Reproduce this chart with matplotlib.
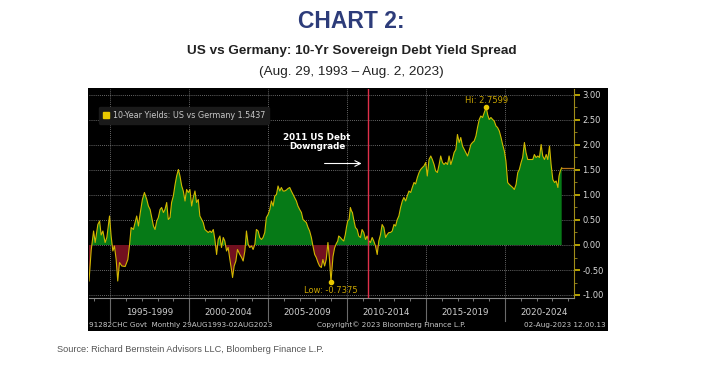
import matplotlib
matplotlib.use("Agg")
import matplotlib.pyplot as plt
import matplotlib.patches as mpatches
from matplotlib import font_manager
import numpy as np

# spread values (decimal year, % points)
dates_dec = [1993.66, 1993.80, 1993.95, 1994.05, 1994.22, 1994.33, 1994.43, 1994.54, 1994.68, 1994.79,
             1994.89, 1994.96, 1995.06, 1995.17, 1995.27, 1995.38, 1995.48, 1995.59, 1995.74, 1995.95,
             1996.12, 1996.22, 1996.33, 1996.47, 1996.58, 1996.68, 1996.79, 1996.89, 1997.04, 1997.17,
             1997.32, 1997.42, 1997.53, 1997.63, 1997.74, 1997.84, 1997.95, 1998.05, 1998.16, 1998.26,
             1998.37, 1998.47, 1998.58, 1998.68, 1998.79, 1998.89, 1999.00, 1999.11, 1999.21, 1999.32,
             1999.42, 1999.53, 1999.63, 1999.74, 1999.84, 1999.95, 2000.05, 2000.16, 2000.26, 2000.37,
             2000.47, 2000.58, 2000.68, 2000.79, 2000.89, 2001.00, 2001.11, 2001.21, 2001.32, 2001.42,
             2001.53, 2001.63, 2001.74, 2001.84, 2001.95, 2002.05, 2002.16, 2002.26, 2002.37, 2002.47,
             2002.58, 2002.68, 2002.75, 2002.85, 2002.96, 2003.06, 2003.21, 2003.32, 2003.42, 2003.53,
             2003.63, 2003.74, 2003.84, 2003.95, 2004.05, 2004.16, 2004.26, 2004.37, 2004.47, 2004.58,
             2004.68, 2004.79, 2004.89, 2005.00, 2005.11, 2005.21, 2005.32, 2005.42, 2005.53, 2005.63,
             2005.74, 2005.84, 2005.95, 2006.05, 2006.16, 2006.26, 2006.37, 2006.47, 2006.58, 2006.68,
             2006.79, 2006.89, 2007.00, 2007.11, 2007.21, 2007.32, 2007.42, 2007.53, 2007.63, 2007.74,
             2007.84, 2007.95, 2008.05, 2008.16, 2008.26, 2008.37, 2008.47, 2008.58, 2008.68, 2008.79,
             2008.89, 2008.98, 2009.11, 2009.21, 2009.32, 2009.41, 2009.47, 2009.58, 2009.68, 2009.79,
             2009.89, 2009.96, 2010.04, 2010.13, 2010.21, 2010.28, 2010.34, 2010.42, 2010.53, 2010.64,
             2010.74, 2010.85, 2010.95, 2011.06, 2011.17, 2011.27, 2011.38, 2011.48, 2011.59, 2011.69,
             2011.80, 2011.91, 2012.01, 2012.12, 2012.22, 2012.33, 2012.44, 2012.54, 2012.65, 2012.75,
             2012.86, 2012.97, 2013.07, 2013.18, 2013.28, 2013.39, 2013.50, 2013.60, 2013.71, 2013.81,
             2013.92, 2014.03, 2014.13, 2014.24, 2014.34, 2014.45, 2014.56, 2014.66, 2014.77, 2014.87,
             2014.98, 2015.08, 2015.19, 2015.30, 2015.40, 2015.51, 2015.61, 2015.72, 2015.83, 2015.93,
             2016.04, 2016.14, 2016.25, 2016.36, 2016.46, 2016.57, 2016.67, 2016.78, 2016.89, 2016.99,
             2017.10, 2017.20, 2017.31, 2017.42, 2017.52, 2017.63, 2017.73, 2017.84, 2017.94, 2018.05,
             2018.16, 2018.26, 2018.37, 2018.47, 2018.58, 2018.69, 2018.81, 2018.90, 2019.00, 2019.11,
             2019.22, 2019.32, 2019.43, 2019.53, 2019.64, 2019.75, 2019.85, 2019.96, 2020.06, 2020.17,
             2020.28, 2020.38, 2020.49, 2020.59, 2020.70, 2020.81, 2020.91, 2021.02, 2021.12, 2021.23,
             2021.33, 2021.44, 2021.55, 2021.65, 2021.76, 2021.86, 2021.97, 2022.08, 2022.18, 2022.29,
             2022.39, 2022.50, 2022.61, 2022.71, 2022.82, 2022.92, 2023.03, 2023.14, 2023.24, 2023.35,
             2023.42, 2023.50, 2023.59]
spread = [-0.72, -0.10, 0.28, 0.05, 0.41, 0.48, 0.20, 0.28, 0.05, 0.15,
          0.41, 0.58, 0.18, -0.12, -0.02, -0.29, -0.72, -0.35, -0.42, -0.43,
          -0.29, -0.02, 0.35, 0.31, 0.45, 0.58, 0.38, 0.61, 0.91, 1.05,
          0.91, 0.78, 0.71, 0.55, 0.38, 0.31, 0.48, 0.55, 0.71, 0.75,
          0.65, 0.71, 0.85, 0.51, 0.55, 0.85, 0.98, 1.21, 1.38, 1.51,
          1.38, 1.18, 1.08, 0.88, 1.11, 1.05, 1.11, 0.78, 0.95, 1.08,
          0.85, 0.91, 0.58, 0.51, 0.45, 0.31, 0.28, 0.25, 0.28, 0.25,
          0.31, 0.11, -0.19, 0.11, 0.18, -0.05, 0.15, 0.08, -0.12, -0.05,
          -0.29, -0.49, -0.65, -0.42, -0.32, -0.09, -0.19, -0.25, -0.32, -0.12,
          0.28, 0.01, -0.05, -0.02, -0.09, 0.01, 0.31, 0.28, 0.15, 0.11,
          0.15, 0.25, 0.55, 0.61, 0.71, 0.88, 0.78, 0.98, 1.01, 1.18,
          1.08, 1.15, 1.08, 1.08, 1.10, 1.13, 1.15, 1.08, 1.01, 0.95,
          0.88, 0.78, 0.71, 0.65, 0.51, 0.48, 0.45, 0.35, 0.28, 0.15,
          -0.02, -0.19, -0.25, -0.35, -0.42, -0.45, -0.29, -0.42, -0.29, 0.05,
          -0.29, -0.7375, -0.23, -0.06, 0.03, 0.08, 0.18, 0.15, 0.11, 0.08,
          0.21, 0.35, 0.48, 0.51, 0.75, 0.68, 0.65, 0.51, 0.35, 0.31,
          0.18, 0.15, 0.31, 0.25, 0.11, 0.18, 0.08, 0.05, 0.15, 0.08,
          -0.02, -0.19, 0.08, 0.21, 0.41, 0.35, 0.15, 0.21, 0.25, 0.25,
          0.28, 0.41, 0.38, 0.51, 0.58, 0.75, 0.88, 0.95, 0.88, 0.98,
          1.08, 1.05, 1.15, 1.25, 1.22, 1.35, 1.45, 1.51, 1.55, 1.58,
          1.65, 1.38, 1.71, 1.78, 1.71, 1.61, 1.48, 1.45, 1.61, 1.78,
          1.65, 1.61, 1.65, 1.61, 1.78, 1.61, 1.71, 1.85, 1.91, 2.21,
          2.05, 2.15, 1.98, 1.91, 1.85, 1.78, 1.88, 2.01, 2.05, 2.08,
          2.18, 2.35, 2.51, 2.58, 2.55, 2.65, 2.7599, 2.61, 2.51, 2.55,
          2.51, 2.48, 2.38, 2.35, 2.28, 2.15, 2.01, 1.88, 1.68, 1.25,
          1.21, 1.18, 1.15, 1.11, 1.21, 1.45, 1.51, 1.65, 1.75, 2.05,
          1.85, 1.71, 1.71, 1.71, 1.71, 1.81, 1.75, 1.78, 1.75, 2.01,
          1.78, 1.71, 1.81, 1.71, 1.98, 1.61, 1.31, 1.25, 1.28, 1.15,
          1.38, 1.48, 1.5437]

period_labels = ["1995-1999", "2000-2004", "2005-2009", "2010-2014", "2015-2019", "2020-2024"]
period_starts = [1995, 2000, 2005, 2010, 2015, 2020]
y_ticks = [3.0, 2.5, 2.0, 1.5, 1.0, 0.5, 0.0, -0.5, -1.0]
downgrade_date = 2011.35
last_value = 1.5437

W, H = 703, 373


def fx(px):
    return px / W


def fy(py):
    return 1 - py / H


def has_font(name):
    try:
        font_manager.findfont(font_manager.FontProperties(family=name), fallback_to_default=False)
        return True
    except Exception:
        return False


narrow = "Liberation Sans Narrow" if has_font("Liberation Sans Narrow") else "Liberation Sans"
sub_size = 11.5 if narrow != "Liberation Sans" else 9.7

fig = plt.figure(figsize=(W / 100, H / 100), dpi=100)
fig.patch.set_facecolor("white")

# black bloomberg panel, drawn behind the axes
panel = fig.add_axes([fx(88), fy(331), fx(608) - fx(88), fy(88) - fy(331)], zorder=-5)
panel.set_facecolor("black")
panel.set_xticks([])
panel.set_yticks([])
for s in panel.spines.values():
    s.set_visible(False)

fig.text(0.5, fy(22), "CHART 2:", ha="center", va="center", fontsize=16.5, fontweight="bold",
         color="#2d3c7a", family="Liberation Sans")
fig.text(0.5, fy(51), "US vs Germany: 10-Yr Sovereign Debt Yield Spread", ha="center", va="center",
         fontsize=sub_size, fontweight="bold", color="#222222", family=narrow)
fig.text(0.5, fy(72), "(Aug. 29, 1993 \u2013 Aug. 2, 2023)", ha="center", va="center",
         fontsize=sub_size, color="#222222", family=narrow)
fig.text(fx(57), fy(349), "Source: Richard Bernstein Advisors LLC, Bloomberg Finance L.P.", ha="left",
         va="center", fontsize=6.6, color="#555555", family="Liberation Sans")

ax = fig.add_axes([fx(89), fy(298), fx(574) - fx(89), fy(89) - fy(298)], zorder=1)
ax.set_facecolor("black")
x0, x1 = 1993.66, 2024.37
ax.set_xlim(x0, x1)
ax.set_ylim(-1.06, 3.12)

x = np.array(dates_dec)
y = np.array(spread)
ax.fill_between(x, 0, y, where=y >= 0, interpolate=True, color="#067a17", lw=0, zorder=2)
ax.fill_between(x, 0, y, where=y < 0, interpolate=True, color="#72101f", lw=0, zorder=2)
ax.plot(x, y, color="#d2b800", lw=0.8, zorder=3)
ax.plot([x[-1], x1], [last_value, last_value], color="#b8741c", lw=0.9, zorder=3)

# grid
for v in y_ticks:
    ax.axhline(v, color="#8a8a8a", lw=0.6, ls=(0, (1, 1.5)), zorder=1)
for s in period_starts:
    ax.axvline(s, color="#8a8a8a", lw=0.6, ls=(0, (1, 1.5)), zorder=1)

ax.axvline(downgrade_date, color="#e0304a", lw=1.0, zorder=4)

# hi / low markers
i_hi = int(np.argmax(y))
i_lo = int(np.argmin(y))
ax.plot(x[i_hi], y[i_hi], "o", ms=3, color="#e8c800", zorder=5)
ax.plot(x[i_lo], y[i_lo], "o", ms=3, color="#e8c800", zorder=5)
ax.text(x[i_hi], y[i_hi] + 0.04, f"Hi: {y[i_hi]:.4f}", color="#c8a400", fontsize=6, ha="center", va="bottom")
ax.text(x[i_lo], y[i_lo] - 0.08, f"Low: {y[i_lo]:.4f}", color="#c8a400", fontsize=6, ha="center", va="top")

ax.text(2008.1, 2.06, "2011 US Debt\nDowngrade", color="white", fontsize=6.3, fontweight="bold",
        ha="center", va="center", linespacing=1.1)
ax.annotate("", xy=(2011.1, 1.63), xytext=(2008.4, 1.63),
            arrowprops=dict(arrowstyle="->", color="white", lw=0.8))

leg = ax.legend(handles=[mpatches.Patch(color="#e8c800", label=f"10-Year Yields: US vs Germany {last_value:.4f}")],
                loc="upper left", bbox_to_anchor=(0.012, 0.935), fontsize=5.8, frameon=True,
                handlelength=0.8, handleheight=0.8, handletextpad=0.4, borderpad=0.5)
leg.get_frame().set_facecolor("#1a1a1a")
leg.get_frame().set_edgecolor("#1a1a1a")
leg.get_frame().set_alpha(1)
for t in leg.get_texts():
    t.set_color("#c8c8c8")

# axes styling
for side in ["top", "left"]:
    ax.spines[side].set_visible(False)
ax.spines["right"].set_color("#a08c1a")
ax.spines["bottom"].set_color("#8a8a8a")
ax.yaxis.tick_right()
ax.set_yticks(y_ticks)
ax.set_yticklabels([f"{v:.2f}" for v in y_ticks])
ax.set_yticks(np.arange(-0.75, 3.0, 0.5), minor=True)
ax.tick_params(axis="y", which="major", colors="#d8c000", labelcolor="#d8d8d8", labelsize=6, length=4,
               width=1.2, pad=2)
ax.tick_params(axis="y", which="minor", colors="#a08c1a", length=2)
ax.set_xticks(np.arange(1994, 2025, 1), minor=True)
ax.set_xticks([])
ax.tick_params(axis="x", which="minor", colors="#8a8a8a", length=2.5, width=0.6)

# period separators and labels below the axis
sep = ax.get_xaxis_transform()
for s, lab in zip(period_starts, period_labels):
    ax.plot([s, s], [0, -0.11], color="#6a6a6a", lw=0.8, transform=sep, clip_on=False)
    ax.text(s + 2.5, -0.067, lab, color="#d0d0d0", fontsize=6.3, ha="center", va="center", transform=sep)

fig.text(fx(89), fy(325), "91282CHC Govt  Monthly 29AUG1993-02AUG2023", color="#c8c8c8", fontsize=5.2,
         ha="left", va="center")
fig.text(fx(317), fy(325), "Copyright\u00a9 2023 Bloomberg Finance L.P.", color="#c8c8c8", fontsize=5.2,
         ha="left", va="center")
fig.text(fx(606), fy(325), "02-Aug-2023 12.00.13", color="#c8c8c8", fontsize=5.2, ha="right", va="center")

fig.savefig("out.png", dpi=100, facecolor="white")
